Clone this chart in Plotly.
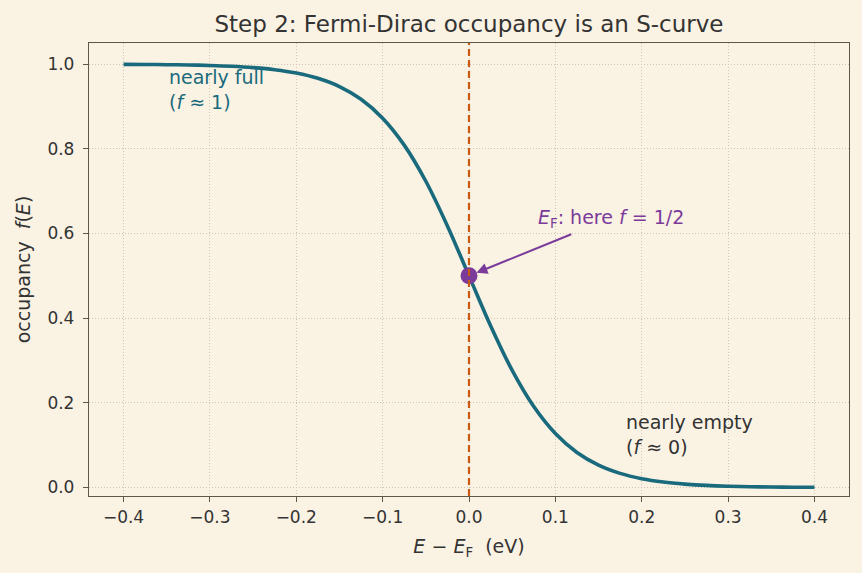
import plotly.graph_objects as go

# Energy relative to Fermi level (eV) and occupancy
energy = [-0.4, -0.375, -0.35, -0.325, -0.3, -0.275, -0.25, -0.225, -0.2, -0.175,
          -0.15, -0.125, -0.1, -0.075, -0.05, -0.025, 0.0, 0.025, 0.05, 0.075,
          0.1, 0.125, 0.15, 0.175, 0.2, 0.225, 0.25, 0.275, 0.3, 0.325,
          0.35, 0.375, 0.4]
occupancy = [0.9995, 0.9993, 0.9988, 0.9981, 0.9969, 0.9950, 0.9919, 0.9870, 0.9791, 0.9666,
             0.9471, 0.9172, 0.8725, 0.8088, 0.7234, 0.6179, 0.5, 0.3821, 0.2766, 0.1912,
             0.1275, 0.0828, 0.0529, 0.0334, 0.0209, 0.0130, 0.0081, 0.0050, 0.0031, 0.0019,
             0.0012, 0.0007, 0.0005]
fermi_x = [0.0]
fermi_y = [0.5]
x_ticks = [-0.4, -0.3, -0.2, -0.1, 0.0, 0.1, 0.2, 0.3, 0.4]
y_ticks = [0.0, 0.2, 0.4, 0.6, 0.8, 1.0]

BG = "#faf2e3"
TEAL = "#196a7c"
ORANGE = "#c95a12"
PURPLE = "#7a3b9a"
TEXT = "#333333"
FRAME = "#5e554b"
GRID = "#cfc6b6"
FONT = "DejaVu Sans"

fig = go.Figure()
fig.add_trace(go.Scatter(x=energy, y=occupancy, mode="lines",
                         line=dict(color=TEAL, width=3.6, shape="spline"),
                         showlegend=False, hoverinfo="skip"))
fig.add_shape(type="line", x0=0, x1=0, y0=0, y1=1, xref="x", yref="paper",
              line=dict(color=ORANGE, width=2.2, dash="7px,4px"))
fig.add_trace(go.Scatter(x=fermi_x, y=fermi_y, mode="markers",
                         marker=dict(color=PURPLE, size=17),
                         showlegend=False, hoverinfo="skip"))

fig.add_annotation(x=0.0, y=0.5, ax=0.164, ay=0.636, xref="x", yref="y",
                   axref="x", ayref="y",
                   text="<i>E</i><sub>F</sub>: here <i>f</i> = 1/2", showarrow=True,
                   arrowhead=2, arrowsize=1.1, arrowwidth=2, arrowcolor=PURPLE,
                   standoff=8, borderpad=3,
                   font=dict(family=FONT, size=19, color=PURPLE))
fig.add_annotation(x=-0.35, y=1.0, xref="x", yref="y", xanchor="left", yanchor="top",
                   align="left", text="nearly full<br>(<i>f</i> ≈ 1)", showarrow=False,
                   font=dict(family=FONT, size=19, color=TEAL))
fig.add_annotation(x=0.179, y=0.186, xref="x", yref="y", xanchor="left", yanchor="top",
                   align="left", text="nearly empty<br>(<i>f</i> ≈ 0)", showarrow=False,
                   font=dict(family=FONT, size=19, color=TEXT))

axis_common = dict(showline=True, linecolor=FRAME, linewidth=1.3, mirror=True,
                   ticks="outside", ticklen=5, tickcolor=FRAME, tickwidth=1.2,
                   showgrid=True, gridcolor=GRID, griddash="1px,2px", gridwidth=1,
                   zeroline=False, tickfont=dict(family=FONT, size=17, color=TEXT))

fig.update_xaxes(range=[-0.44, 0.44], tickvals=x_ticks, tickformat=".1f",
                 title=dict(text="<i>E</i> − <i>E</i><sub>F</sub>  (eV)", standoff=14,
                            font=dict(family=FONT, size=19, color=TEXT)),
                 **axis_common)
fig.update_yaxes(range=[-0.02, 1.05], tickvals=y_ticks, tickformat=".1f",
                 ticklabelstandoff=5,
                 title=dict(text="occupancy  <i>f</i>(<i>E</i>)", standoff=11,
                            font=dict(family=FONT, size=19, color=TEXT)),
                 **axis_common)

fig.update_layout(
    width=862, height=573,
    paper_bgcolor=BG, plot_bgcolor=BG,
    margin=dict(l=89, r=13, t=43, b=77),
    title=dict(text="Step 2: Fermi-Dirac occupancy is an S-curve",
               x=(89 + 849) / 2 / 862, xanchor="center", y=1 - 24 / 573, yanchor="middle",
               font=dict(family=FONT, size=23, color=TEXT)),
    font=dict(family=FONT, color=TEXT),
)

fig.write_html("out.html")
